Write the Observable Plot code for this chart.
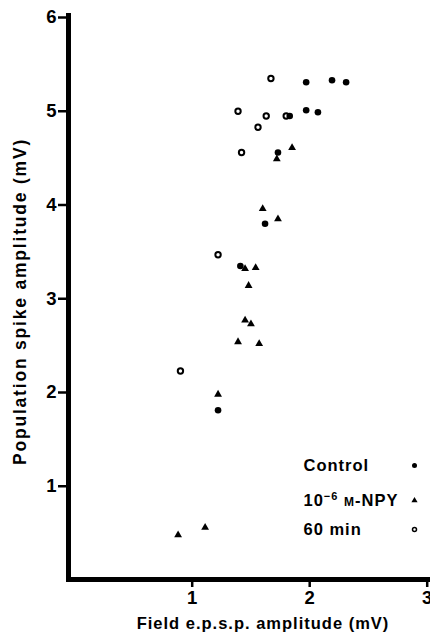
<!DOCTYPE html>
<html><head><meta charset="utf-8">
<script src="https://cdn.jsdelivr.net/npm/d3@7"></script>
<script src="https://cdn.jsdelivr.net/npm/@observablehq/plot@0.6"></script>
<style>
body{margin:0;background:#fff;}
#chart{position:relative;width:430px;height:643px;}
</style></head><body><div id="chart"></div>
<script>
// Control (filled circles)
const controlX = [1.97, 2.19, 2.31, 1.97, 2.07, 1.83, 1.73, 1.62, 1.41, 1.22];
const controlY = [5.31, 5.33, 5.31, 5.01, 4.99, 4.95, 4.56, 3.80, 3.35, 1.81];
// 10^-6 M-NPY (filled triangles)
const npyX = [1.85, 1.72, 1.60, 1.73, 1.45, 1.54, 1.48, 1.45, 1.50, 1.39, 1.57, 1.22, 0.88, 1.11];
const npyY = [4.61, 4.49, 3.96, 3.85, 3.32, 3.33, 3.14, 2.77, 2.73, 2.54, 2.52, 1.98, 0.48, 0.56];
// 60 min (open circles)
const min60X = [1.67, 1.39, 1.63, 1.56, 1.80, 1.42, 1.22, 0.90];
const min60Y = [5.35, 5.00, 4.95, 4.83, 4.95, 4.56, 3.47, 2.23];

const xTicks = [1, 2, 3];
const yTicks = [1, 2, 3, 4, 5, 6];
const xTitle = "Field e.p.s.p. amplitude (mV)";
const yTitle = "Population spike amplitude (mV)";
const legendLabels = ["Control", "10-6 M-NPY", "60 min"];

const toRows = (xs, ys) => xs.map((x, i) => ({x, y: ys[i]}));
const control = toRows(controlX, controlY);
const npy = toRows(npyX, npyY);
const min60 = toRows(min60X, min60Y);

const font = "'Liberation Sans', Arial, Helvetica, sans-serif";
const legendDy = [-114, -79, -50];

const legendMarks = [];
legendLabels.forEach((lab, i) => {
  legendMarks.push(Plot.text([lab], {
    text: d => d, frameAnchor: "bottom-right", dx: -124, dy: legendDy[i],
    textAnchor: "start", lineAnchor: "middle", fontSize: 16.5, fontWeight: "bold",
    fill: "black", className: "legend-text-" + i
  }));
});
legendMarks.push(Plot.dot([legendLabels[0]], {frameAnchor: "bottom-right", dx: -13, dy: legendDy[0], r: 2.5, fill: "black"}));
legendMarks.push(Plot.dot([legendLabels[1]], {frameAnchor: "bottom-right", dx: -13, dy: legendDy[1], r: 2.3, symbol: "triangle", fill: "black"}));
legendMarks.push(Plot.dot([legendLabels[2]], {frameAnchor: "bottom-right", dx: -13, dy: legendDy[2], r: 2, stroke: "black", strokeWidth: 1.5, fill: "white"}));

const chart = Plot.plot({
  width: 430,
  height: 643,
  marginLeft: 68,
  marginRight: 3,
  marginTop: 15,
  marginBottom: 64,
  style: {fontFamily: font, background: "white", color: "black"},
  x: {domain: [0, 3], range: [74.2, 426.7]},
  y: {domain: [0, 6], range: [579.5, 17]},
  marks: [
    Plot.axisY(yTicks, {tickSize: 10, tickPadding: 2, fontSize: 18.5, fontWeight: "bold", strokeWidth: 2.5, label: null, tickFormat: d => String(d)}),
    Plot.axisX(xTicks, {tickSize: 8, tickPadding: 3, fontSize: 18.5, fontWeight: "bold", strokeWidth: 2.5, label: null, tickFormat: d => String(d)}),
    Plot.frame({anchor: "left", stroke: "black", strokeWidth: 5, strokeLinecap: "square"}),
    Plot.frame({anchor: "bottom", stroke: "black", strokeWidth: 5, strokeLinecap: "square"}),
    Plot.text([yTitle], {text: d => d, frameAnchor: "left", textAnchor: "middle", rotate: -90, dx: -48, dy: 4, fontSize: 17.5, fontWeight: "bold", fill: "black", className: "ytitle"}),
    Plot.text([xTitle], {text: d => d, frameAnchor: "bottom", textAnchor: "middle", dx: 15, dy: 49, fontSize: 16.5, fontWeight: "bold", fill: "black", className: "xtitle"}),
    Plot.dot(min60, {x: "x", y: "y", r: 2.7, stroke: "black", strokeWidth: 2, fill: "white"}),
    Plot.dot(control, {x: "x", y: "y", r: 3.3, fill: "black"}),
    Plot.dot(npy, {x: "x", y: "y", r: 2.9, symbol: "triangle", fill: "black"}),
    ...legendMarks
  ]
});

document.getElementById("chart").appendChild(chart);

// letter spacing for titles and legend
d3.select(chart).selectAll(".ytitle text").style("letter-spacing", "1.8px");
d3.select(chart).selectAll(".xtitle text").style("letter-spacing", "1px");
d3.select(chart).selectAll("[class^='legend-text'] text").style("letter-spacing", "1px");

// Rich text for the NPY legend label: 10^-6 M-NPY (M in small caps)
d3.select(chart).selectAll(".legend-text-1 text").each(function() {
  const t = d3.select(this);
  t.text(null);
  t.append("tspan").text("10");
  t.append("tspan").attr("font-size", 11).attr("dy", -6).text("\u22126");
  t.append("tspan").attr("dy", 6).text(" ");
  t.append("tspan").attr("font-size", 12).text("M");
  t.append("tspan").text("-NPY");
});
</script></body></html>
